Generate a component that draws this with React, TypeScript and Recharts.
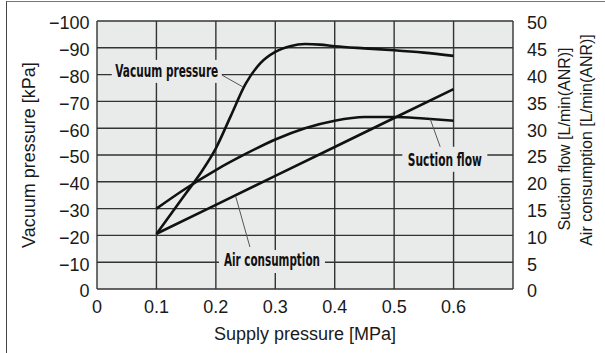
import React from 'react';
import {
  LineChart,
  Line,
  XAxis,
  YAxis,
  CartesianGrid,
  ReferenceLine,
  ReferenceDot,
  Customized,
} from 'recharts';

// Vacuum pressure [kPa] vs supply pressure [MPa]
const vacuumSupply = [0.1, 0.125, 0.15, 0.175, 0.2, 0.225, 0.25, 0.275, 0.3, 0.325, 0.35, 0.375, 0.4, 0.45, 0.5, 0.55, 0.6];
const vacuumPressure = [-20.5, -28.2, -35.8, -43.5, -52.5, -64.5, -76.5, -84.3, -88.5, -90.6, -91.4, -91.2, -90.6, -89.8, -89.1, -88.2, -87];

// Suction flow [L/min(ANR)]
const flowSupply = [0.1, 0.15, 0.2, 0.25, 0.3, 0.35, 0.4, 0.45, 0.5, 0.55, 0.6];
const suctionFlow = [15, 18.8, 22.2, 25.2, 27.9, 30, 31.4, 32.1, 32.1, 31.8, 31.4];

// Air consumption [L/min(ANR)]
const airSupply = [0.1, 0.2, 0.3, 0.4, 0.5, 0.6];
const airConsumption = [10.3, 15.7, 21.1, 26.5, 31.9, 37.3];

// Axis ticks
const supplyTicks = [0, 0.1, 0.2, 0.3, 0.4, 0.5, 0.6, 0.7];
const supplyTickLabels = ['0', '0.1', '0.2', '0.3', '0.4', '0.5', '0.6', ''];
const vacuumTicks = [-100, -90, -80, -70, -60, -50, -40, -30, -20, -10, 0];
const flowTicks = [0, 5, 10, 15, 20, 25, 30, 35, 40, 45, 50];

// Callout anchors (data coordinates)
const vacuumTag = { text: 'Vacuum pressure', x: 0.1174, y: -81.2 };
const vacuumLeader = [{ x: 0.2101, y: -79.85 }, { x: 0.2455, y: -75.4 }];
const suctionTag = { text: 'Suction flow', x: 0.5853, y: 24.2 };
const suctionLeader = [{ x: 0.5609, y: 31.66 }, { x: 0.5776, y: 26.49 }];
const airTag = { text: 'Air consumption', x: 0.2944, y: 5.13 };
const airLeader = [{ x: 0.2332, y: 17.35 }, { x: 0.2573, y: 7.84 }];

const vacuumData = vacuumSupply.map((x, i) => ({ x, v: vacuumPressure[i] }));
const suctionData = flowSupply.map((x, i) => ({ x, v: suctionFlow[i] }));
const airData = airSupply.map((x, i) => ({ x, v: airConsumption[i] }));

const PLOT_BG = '#e9eaea';
const FONT = '"Liberation Sans", Arial, Helvetica, sans-serif';
const TAG_FONT = '"Liberation Sans Narrow", "Arial Narrow", "DejaVu Sans Condensed", sans-serif';
const INK = '#1a1a1a';

const tickStyle = { fontSize: 18, fontFamily: FONT, fill: INK };

const makeTag = (text: string, w: number, h: number, len: number, base: number) => (props: any) => {
  const { cx, cy } = props;
  return (
    <g>
      <rect x={cx - w / 2} y={cy - h / 2} width={w} height={h} fill={PLOT_BG} />
      <text
        x={cx}
        y={cy + base}
        textAnchor="middle"
        fontFamily={TAG_FONT}
        fontWeight="bold"
        fontSize={17}
        textLength={len}
        lengthAdjust="spacingAndGlyphs"
        fill="#111"
      >
        {text}
      </text>
    </g>
  );
};

const AxisTitles = () => (
  <g fontFamily={FONT} fill={INK}>
    <text x={35} y={155} fontSize={18} textAnchor="middle" transform="rotate(-90, 35, 155)">
      Vacuum pressure [kPa]
    </text>
    <text x={570} y={139} fontSize={16} textAnchor="middle" transform="rotate(-90, 570, 139)">
      Suction flow [L/min(ANR)]
    </text>
    <text x={592} y={140} fontSize={16} textAnchor="middle" transform="rotate(-90, 592, 140)">
      Air consumption [L/min(ANR)]
    </text>
    <text x={305} y={340} fontSize={18} textAnchor="middle">
      Supply pressure [MPa]
    </text>
  </g>
);

export default function App() {
  return (
    <div style={{ position: 'absolute', left: 0, top: 0, width: 605, height: 353, overflow: 'hidden', background: '#fff' }}>
      <div
        style={{
          position: 'absolute',
          left: 6,
          top: 1,
          width: 620,
          height: 370,
          borderLeft: '1.5px solid #444',
          borderTop: '1.5px solid #777',
        }}
      />
      <div style={{ position: 'absolute', left: 0, top: 0 }}>
        <LineChart width={605} height={353} margin={{ top: 21, right: 0, bottom: 0, left: 0 }}>
          <CartesianGrid
            yAxisId="left"
            stroke="#333"
            strokeWidth={1.4}
            fill={PLOT_BG}
            fillOpacity={1}
          />
          <XAxis
            type="number"
            dataKey="x"
            domain={[0, 0.7]}
            ticks={supplyTicks}
            interval={0}
            tickFormatter={(v: number) => supplyTickLabels[supplyTicks.indexOf(v)] ?? ''}
            height={64}
            axisLine={false}
            tickLine={false}
            tickSize={6}
            tickMargin={5}
            tick={tickStyle}
            allowDataOverflow
          />
          <YAxis
            yAxisId="left"
            domain={[-100, 0]}
            reversed
            ticks={vacuumTicks}
            interval={0}
            tickFormatter={(v: number) => (v === 0 ? '0' : '\u2212' + Math.abs(v))}
            width={97}
            axisLine={false}
            tickLine={false}
            tickSize={6}
            tickMargin={1.5}
            tick={{ ...tickStyle, dy: 2 }}
          />
          <YAxis
            yAxisId="right"
            orientation="right"
            domain={[0, 50]}
            ticks={flowTicks}
            interval={0}
            width={92}
            axisLine={false}
            tickLine={false}
            tickSize={6}
            tickMargin={8}
            tick={{ ...tickStyle, dy: 2 }}
          />
          <Line
            data={vacuumData}
            dataKey="v"
            yAxisId="left"
            type="monotone"
            stroke="#111"
            strokeWidth={2.6}
            dot={false}
            isAnimationActive={false}
          />
          <Line
            data={suctionData}
            dataKey="v"
            yAxisId="right"
            type="monotone"
            stroke="#111"
            strokeWidth={2.6}
            dot={false}
            isAnimationActive={false}
          />
          <Line
            data={airData}
            dataKey="v"
            yAxisId="right"
            type="linear"
            stroke="#111"
            strokeWidth={2.6}
            dot={false}
            isAnimationActive={false}
          />
          <ReferenceLine yAxisId="left" segment={vacuumLeader} stroke="#555" strokeWidth={1} />
          <ReferenceLine yAxisId="right" segment={suctionLeader} stroke="#555" strokeWidth={1} />
          <ReferenceLine yAxisId="right" segment={airLeader} stroke="#555" strokeWidth={1} />
          <ReferenceDot
            yAxisId="left"
            x={vacuumTag.x}
            y={vacuumTag.y}
            r={1}
            shape={makeTag(vacuumTag.text, 110, 23, 103, 6)}
          />
          <ReferenceDot
            yAxisId="right"
            x={suctionTag.x}
            y={suctionTag.y}
            r={1}
            shape={makeTag(suctionTag.text, 85, 25, 74, 7)}
          />
          <ReferenceDot
            yAxisId="right"
            x={airTag.x}
            y={airTag.y}
            r={1}
            shape={makeTag(airTag.text, 106, 23, 96, 4.5)}
          />
          <Customized component={<AxisTitles />} />
        </LineChart>
      </div>
    </div>
  );
}
